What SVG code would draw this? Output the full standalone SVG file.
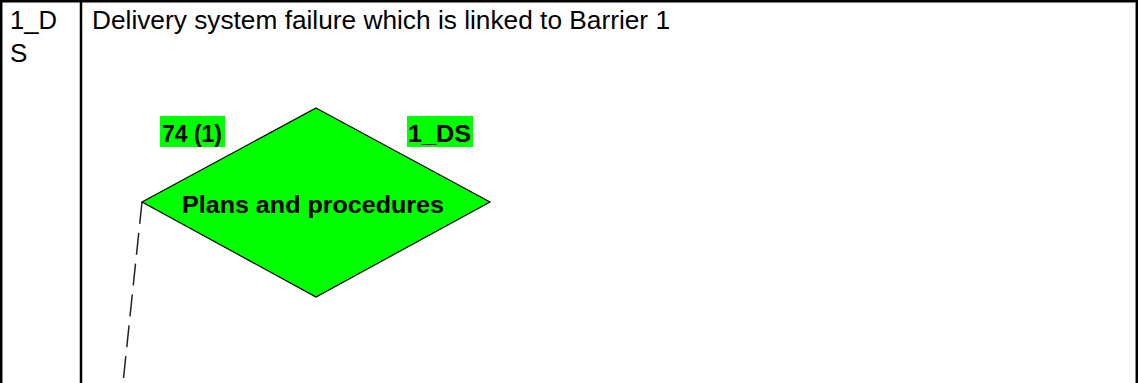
<svg xmlns="http://www.w3.org/2000/svg" width="1138" height="383" viewBox="0 0 1138 383">
<style>
.cell{font-family:"Liberation Sans",Arial,sans-serif;font-size:26px;fill:#000}
.lbl{font-family:"Liberation Sans",Arial,sans-serif;font-size:24px;font-weight:bold;fill:#000}
.tbl{stroke:#000;stroke-width:2.5;fill:none}
</style>
<rect width="1138" height="383" fill="#fff"/>
<g id="table">
<line class="tbl" x1="0" y1="1.2" x2="1138" y2="1.2"/>
<line class="tbl" x1="1.2" y1="0" x2="1.2" y2="383"/>
<line class="tbl" x1="81" y1="0" x2="81" y2="383"/>
<line class="tbl" x1="1136.8" y1="0" x2="1136.8" y2="383"/>
<text class="cell" x="10" y="29" textLength="47" lengthAdjust="spacingAndGlyphs">1_D</text>
<text class="cell" x="10" y="62">S</text>
<text class="cell" x="92" y="29" textLength="578" lengthAdjust="spacingAndGlyphs">Delivery system failure which is linked to Barrier 1</text>
</g>
<g id="connectors">
<path d="M142,202 L123,383" stroke="#222" stroke-width="1.5" fill="none" stroke-dasharray="22 9"/>
</g>
<g id="node-plans">
<polygon points="316,108 490,202 316,297 142,202" fill="#00ff00" stroke="#000" stroke-width="1.2"/>
<text class="lbl" x="313" y="213" text-anchor="middle" textLength="262" lengthAdjust="spacingAndGlyphs">Plans and procedures</text>
</g>
<g id="label-74">
<rect x="160" y="116" width="65" height="31" fill="#00ff00"/>
<text class="lbl" x="162" y="142" textLength="60" lengthAdjust="spacingAndGlyphs">74 (1)</text>
</g>
<g id="label-1ds">
<rect x="407" y="116" width="66" height="31" fill="#00ff00"/>
<text class="lbl" x="408" y="142" textLength="63" lengthAdjust="spacingAndGlyphs">1_DS</text>
</g>
</svg>
